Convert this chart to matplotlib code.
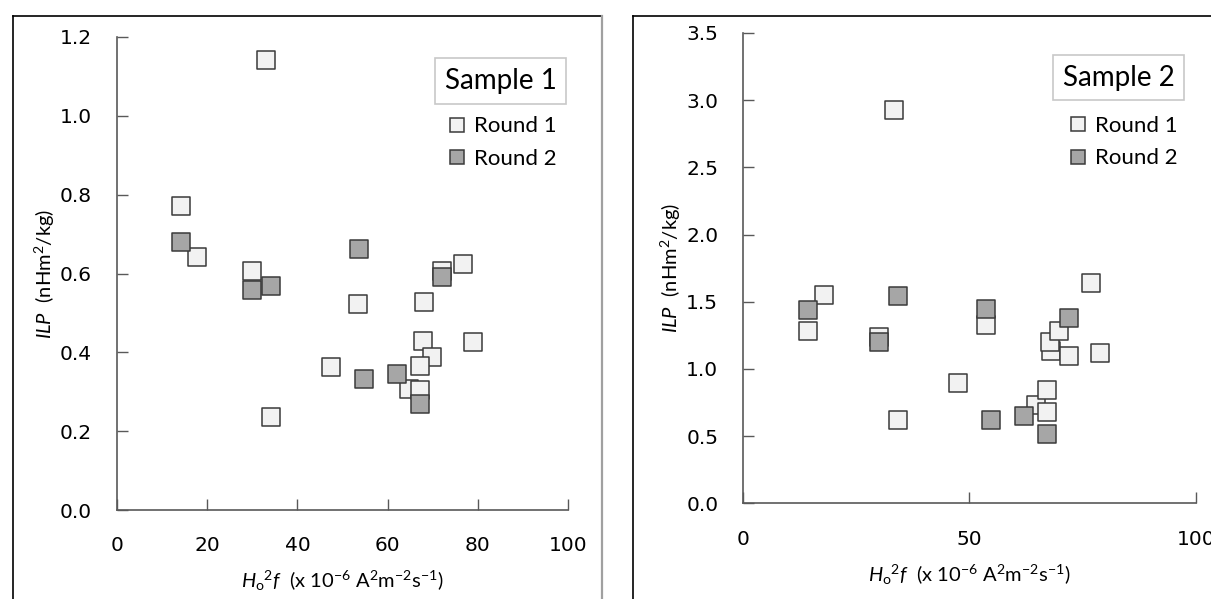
import matplotlib
matplotlib.use('Agg')
import matplotlib.pyplot as plt
from matplotlib.lines import Line2D

plt.rcParams['mathtext.fontset'] = 'custom'
plt.rcParams['mathtext.rm'] = 'Lato'
plt.rcParams['mathtext.it'] = 'Lato:italic'

# Sample 1 data
s1_r1_x = [33.0, 14.1, 17.7, 29.9, 53.5, 72.0, 76.7, 68.1, 47.5, 67.8, 69.9, 79.0, 67.2, 64.8, 67.2, 34.1]
s1_r1_y = [1.142, 0.771, 0.642, 0.606, 0.523, 0.606, 0.625, 0.528, 0.364, 0.430, 0.388, 0.427, 0.366, 0.308, 0.304, 0.235]
s1_r2_x = [14.1, 29.9, 34.1, 53.6, 54.8, 62.0, 67.2, 72.0]
s1_r2_y = [0.680, 0.559, 0.569, 0.663, 0.332, 0.346, 0.270, 0.590]

# Sample 2 data
s2_r1_x = [14.2, 17.9, 30.1, 34.3, 47.5, 53.6, 64.7, 67.2, 67.2, 68.0, 67.8, 69.8, 72.0, 76.8, 78.9, 33.3]
s2_r1_y = [1.282, 1.552, 1.240, 0.618, 0.893, 1.324, 0.731, 0.841, 0.682, 1.133, 1.200, 1.282, 1.098, 1.641, 1.118, 2.930]
s2_r2_x = [14.2, 30.1, 34.3, 53.6, 54.7, 62.0, 67.2, 72.0]
s2_r2_y = [1.436, 1.200, 1.540, 1.446, 0.620, 0.650, 0.518, 1.376]

light = '#f2f2f2'
dark = '#a6a6a6'
edge = '#3a3a3a'
axcol = '#595959'

fig = plt.figure(figsize=(12.11, 5.99), dpi=100)

# panel frames
for x0, x1 in [(12.5, 601.7), (632.7, 1240)]:
    fig.add_artist(Line2D([x0/1211, x0/1211], [0, 1 - 16/599], color='black', lw=1.2))
    fig.add_artist(Line2D([x0/1211, x1/1211], [1 - 16/599, 1 - 16/599], color='black', lw=1.2))
    fig.add_artist(Line2D([x1/1211, x1/1211], [0, 1 - 16/599], color='#a0a0a0', lw=1.6))


def panel(rect, r1x, r1y, r2x, r2y, ymax, ystep, xticks, title, tpos, lpos):
    ax = fig.add_axes(rect)
    ax.scatter(r1x, r1y, marker='s', s=150, facecolor=light, edgecolor=edge, linewidth=1.1, zorder=3)
    ax.scatter(r2x, r2y, marker='s', s=150, facecolor=dark, edgecolor=edge, linewidth=1.1, zorder=4)
    ax.set_xlim(0, 100)
    ax.set_ylim(0, ymax)
    ax.set_xticks(xticks)
    yt = [i * ystep for i in range(int(round(ymax / ystep)) + 1)]
    ax.set_yticks(yt)
    ax.set_yticklabels([f'{v:.1f}' for v in yt])
    for s in ['top', 'right']:
        ax.spines[s].set_visible(False)
    for s in ['left', 'bottom']:
        ax.spines[s].set_color(axcol)
        ax.spines[s].set_linewidth(1.2)
    ax.tick_params(axis='both', direction='in', length=8, width=1, color=axcol,
                   labelsize=14.5, labelcolor='black')
    ax.tick_params(axis='y', pad=18)
    ax.tick_params(axis='x', pad=19)
    ax.set_ylabel(r'$\it{ILP}$  (nHm$^2$/kg)', fontsize=14.5, family='Lato', labelpad=2)
    ax.set_xlabel(r'$\it{H}_{\rm o}{}^{2}\it{f}$  (x 10$^{-6}$ A$^{2}$m$^{-2}$s$^{-1}$)',
                  fontsize=14.5, family='Lato', labelpad=10)
    ax.text(tpos[0], tpos[1], title, transform=ax.transAxes, fontsize=20, family='Lato',
            ha='center', va='center',
            bbox=dict(boxstyle='square,pad=0.35', fc='white', ec='#c8c8c8', lw=1.2))
    handles = [Line2D([], [], ls='none', marker='s', ms=10.5, mfc=light, mec=edge, mew=1.1),
               Line2D([], [], ls='none', marker='s', ms=10.5, mfc=dark, mec=edge, mew=1.1)]
    ax.legend(handles, ['Round 1', 'Round 2'], loc='upper left', bbox_to_anchor=lpos,
              frameon=False, prop={'family': 'Lato', 'size': 16}, handletextpad=0.35,
              handlelength=0.8, labelspacing=0.55, borderaxespad=0, borderpad=0)
    return ax


panel([117 / 1211, 89 / 599, 451 / 1211, 473 / 599], s1_r1_x, s1_r1_y, s1_r2_x, s1_r2_y,
      1.2, 0.2, [0, 20, 40, 60, 80, 100], 'Sample 1', (0.851, 0.907), (0.735, 0.832))
panel([743.3 / 1211, 95.7 / 599, 452.4 / 1211, 470.3 / 599], s2_r1_x, s2_r1_y, s2_r2_x, s2_r2_y,
      3.5, 0.5, [0, 50, 100], 'Sample 2', (0.830, 0.905), (0.72, 0.823))

fig.savefig('out.png', dpi=100)
